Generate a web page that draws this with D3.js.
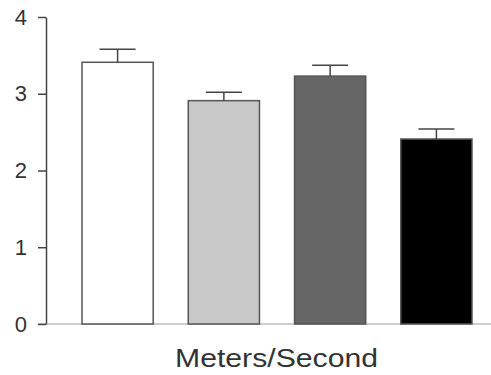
<!DOCTYPE html>
<html>
<head>
<meta charset="utf-8">
<script src="https://cdn.jsdelivr.net/npm/d3@7"></script>
<style>
  body { margin: 0; background: #fff; }
  svg text { font-family: Arial, "Liberation Sans", sans-serif; fill: #333; }
</style>
</head>
<body>
<svg id="chart" width="491" height="375"></svg>
<script>
// Data
var groups = ["A", "B", "C", "D"];
var means = [3.41, 2.91, 3.23, 2.41];
var errors = [0.17, 0.11, 0.14, 0.13];
var fills = ["#ffffff", "#c8c8c8", "#666666", "#000000"];
var yTicks = [0, 1, 2, 3, 4];
var axisTitle = "Meters/Second";

var svg = d3.select("#chart");

// Scales
var y = d3.scaleLinear().domain([0, 4]).range([324, 17]);
var x = d3.scaleBand().domain(groups).range([82, 472]).paddingInner(0.33).paddingOuter(0);

// Baseline across the bottom
svg.append("line")
    .attr("x1", 38).attr("x2", 491)
    .attr("y1", y(0)).attr("y2", y(0))
    .attr("stroke", "#bbb")
    .attr("stroke-width", 1.5);

// Bars
svg.append("g").selectAll("rect")
    .data(means)
    .enter().append("rect")
        .attr("x", function(d, i) { return x(groups[i]); })
        .attr("y", function(d) { return y(d); })
        .attr("width", x.bandwidth())
        .attr("height", function(d) { return y(0) - y(d); })
        .attr("fill", function(d, i) { return fills[i]; })
        .attr("stroke", "#555")
        .attr("stroke-width", 1.5);

// Error bars (upper only)
var err = svg.append("g").selectAll("g")
    .data(means)
    .enter().append("g")
        .attr("stroke", "#444")
        .attr("stroke-width", 1.5);

err.append("line")
    .attr("x1", function(d, i) { return x(groups[i]) + x.bandwidth() / 2; })
    .attr("x2", function(d, i) { return x(groups[i]) + x.bandwidth() / 2; })
    .attr("y1", function(d) { return y(d); })
    .attr("y2", function(d, i) { return y(d + errors[i]); });

err.append("line")
    .attr("x1", function(d, i) { return x(groups[i]) + x.bandwidth() / 2 - 18; })
    .attr("x2", function(d, i) { return x(groups[i]) + x.bandwidth() / 2 + 18; })
    .attr("y1", function(d, i) { return y(d + errors[i]); })
    .attr("y2", function(d, i) { return y(d + errors[i]); });

// Y axis
var yAxis = svg.append("g")
    .attr("transform", "translate(46,0)")
    .call(d3.axisLeft(y).tickValues(yTicks).tickFormat(d3.format("d")).tickSize(8).tickSizeOuter(0).tickPadding(11));

yAxis.select(".domain").attr("stroke", "#444").attr("stroke-width", 1.5);
yAxis.selectAll(".tick line").attr("stroke", "#444").attr("stroke-width", 1.5);
yAxis.selectAll(".tick text")
    .style("font-size", "22px")
    .style("font-family", "Arial, 'Liberation Sans', sans-serif")
    .attr("fill", "#333");

// Axis title
svg.append("text")
    .attr("x", 175)
    .attr("y", 367)
    .attr("textLength", 203)
    .attr("lengthAdjust", "spacingAndGlyphs")
    .style("font-size", "25px")
    .text(axisTitle);
</script>
</body>
</html>
